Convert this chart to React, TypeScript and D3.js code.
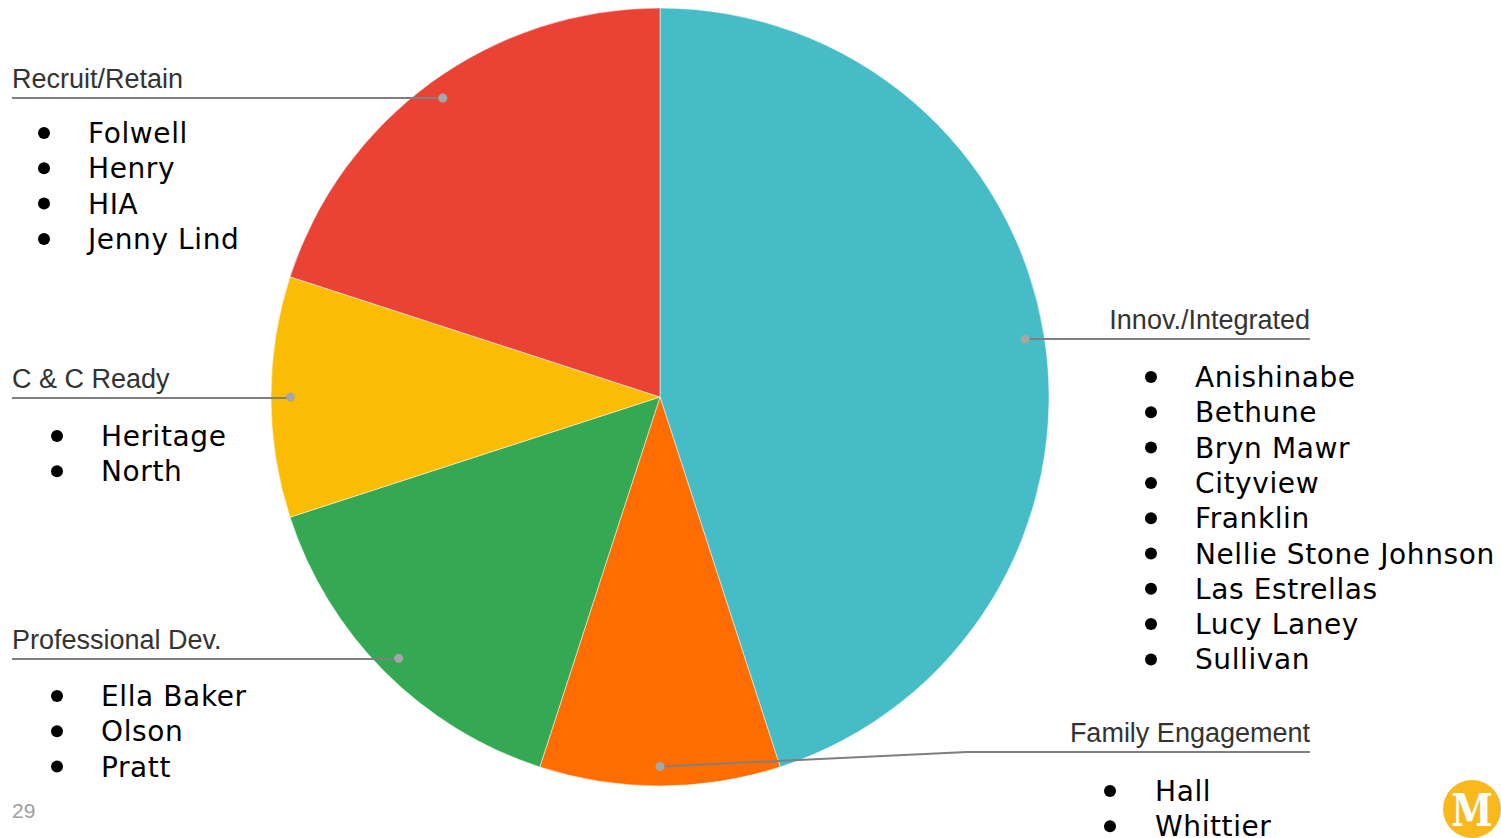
import React from "react";
import * as d3 from "d3";

const categories = ["Innov./Integrated", "Family Engagement", "Professional Dev.", "C & C Ready", "Recruit/Retain"];
const counts = [9, 2, 3, 2, 4];
const colors = ["#46BDC6", "#FF6D01", "#34A853", "#FBBC04", "#EA4335"];
const schools: string[][] = [
  ["Anishinabe", "Bethune", "Bryn Mawr", "Cityview", "Franklin", "Nellie Stone Johnson", "Las Estrellas", "Lucy Laney", "Sullivan"],
  ["Hall", "Whittier"],
  ["Ella Baker", "Olson", "Pratt"],
  ["Heritage", "North"],
  ["Folwell", "Henry", "HIA", "Jenny Lind"],
];

const W = 1501, H = 838;
const cx = 660, cy = 397, R = 389;

const layout = [
  { side: "right", lineY: 339, lx0: 1310, listY: 377, bx: 1151, tx: 1195, elbowX: null as number | null },
  { side: "right", lineY: 752, lx0: 1310, listY: 791, bx: 1110, tx: 1155, elbowX: 967 },
  { side: "left", lineY: 659, lx0: 12, listY: 696, bx: 57, tx: 101, elbowX: null },
  { side: "left", lineY: 398, lx0: 12, listY: 436, bx: 57, tx: 101, elbowX: null },
  { side: "left", lineY: 98, lx0: 12, listY: 133, bx: 44, tx: 88, elbowX: null },
];

export default function App() {
  const pie = d3.pie<number>().sort(null).value((d) => d);
  const arcs = pie(counts);
  const arc = d3.arc<d3.PieArcDatum<number>>().innerRadius(0).outerRadius(R);
  const labelArc = d3.arc<d3.PieArcDatum<number>>().innerRadius(R * 0.95).outerRadius(R * 0.95);
  const lineH = 35.3;
  return (
    <svg width={W} height={H} style={{ position: "absolute", left: 0, top: 0 }}>
      <rect width={W} height={H} fill="#fff" />
      <g transform={`translate(${cx},${cy})`}>
        {arcs.map((a, i) => (
          <path key={i} d={arc(a) || ""} fill={colors[i]} stroke="#fff" strokeWidth={0.5} />
        ))}
      </g>
      {arcs.map((a, i) => {
        const [px, py] = labelArc.centroid(a);
        const dx = cx + px, dy = cy + py;
        const L = layout[i];
        const pts = L.elbowX != null
          ? `${dx},${dy} ${L.elbowX},${L.lineY} ${L.lx0},${L.lineY}`
          : `${dx},${dy} ${dx},${L.lineY} ${L.lx0},${L.lineY}`;
        return (
          <g key={"l" + i}>
            <polyline points={pts} fill="none" stroke="#7f7f7f" strokeWidth={2} />
            <circle cx={dx} cy={dy} r={4.5} fill="#a6a6a6" />
            <text
              x={L.lx0}
              y={L.lineY - 10}
              textAnchor={L.side === "left" ? "start" : "end"}
              fontFamily="'Liberation Sans', Arial, sans-serif"
              fontSize={27}
              fill="#333"
            >
              {categories[i]}
            </text>
            {schools[i].map((s, j) => (
              <g key={j}>
                <circle cx={L.bx} cy={L.listY + j * lineH} r={6} fill="#000" />
                <text
                  x={L.tx}
                  y={L.listY + j * lineH + 10}
                  fontFamily="'DejaVu Sans', sans-serif"
                  fontSize={28}
                  letterSpacing={0.6}
                  fill="#000"
                >
                  {s}
                </text>
              </g>
            ))}
          </g>
        );
      })}
      <text x={12} y={818} fontFamily="'Liberation Sans', Arial, sans-serif" fontSize={21} fill="#9e9e9e">29</text>
      <circle cx={1472} cy={809} r={29} fill="#F9B91C" />
      <text x={1472} y={826} textAnchor="middle" fontFamily="'DejaVu Serif', 'Liberation Serif', serif" fontSize={44} fill="#fff" fontWeight="bold" transform="translate(1472,809) scale(0.85,1) translate(-1472,-809)">M</text>
    </svg>
  );
}
